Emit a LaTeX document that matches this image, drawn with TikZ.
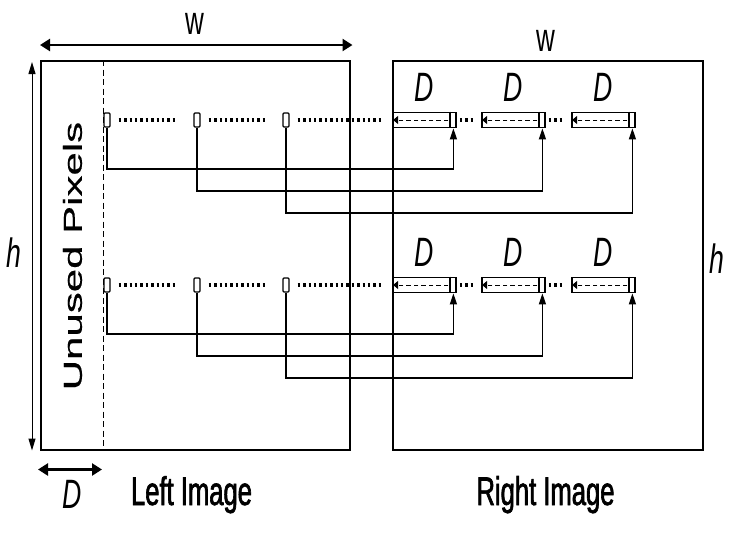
\documentclass[tikz,border=0pt]{standalone}
\usepackage{fontspec}
\setmainfont{Liberation Sans}
\newfontfamily\condf[FakeStretch=0.65]{Liberation Sans}
\newfontfamily\condbf[FakeStretch=0.64,FakeBold=1.6]{Liberation Sans}
\newfontfamily\plainf[FakeBold=0.4]{Liberation Sans}
\usetikzlibrary{arrows.meta}
\tikzset{
  frame/.style={draw, line width=1.5pt, inner sep=0pt, anchor=north west},
  sqbox/.style={draw, line width=1.4pt, minimum width=6pt, minimum height=14pt, inner sep=0pt, rounded corners=1pt},
  rbox/.style={draw, line width=1.8pt, minimum width=63pt, minimum height=15pt, inner sep=0pt},
  conn/.style={line width=1.4pt, -{Triangle[length=11pt,width=7pt]}},
  dotrun/.style={line width=4.5pt, dash pattern=on 2.4pt off 3pt},
  innerdash/.style={line width=1pt, dash pattern=on 4.5pt off 3pt, -{Triangle[length=5pt,width=8pt]}},
  dimarrow/.style={line width=2.4pt, {Triangle[length=10pt,width=12pt]}-{Triangle[length=10pt,width=12pt]}},
  harrow/.style={line width=1pt, {Triangle[length=12pt,width=7pt]}-{Triangle[length=12pt,width=7pt]}},
  lbl/.style={font=\condf\fontsize{40}{40}\selectfont, inner sep=0pt, anchor=base},
  blbl/.style={font=\condbf\fontsize{40}{40}\selectfont, inner sep=0pt, anchor=base},
  ilbl/.style={font=\condf\itshape\fontsize{41}{41}\selectfont, inner sep=0pt, anchor=base}
}
\begin{document}
\begin{tikzpicture}[x=1pt,y=-1pt]
\useasboundingbox (0,0) rectangle (748,541);
% frames
\node[frame, minimum width=309pt, minimum height=389pt] (L) at (40,60) {};
\node[frame, minimum width=310pt, minimum height=389pt] (R) at (392,60) {};
% unused pixel border
\draw[line width=0.9pt, dash pattern=on 6pt off 3.5pt] ([xshift=63pt]L.north west) -- ([xshift=63pt]L.south west);
% dimension arrows
\draw[dimarrow] ([yshift=15pt]L.north west) -- ([yshift=15pt,xshift=2pt]L.north east);
\draw[harrow] ([xshift=-8pt,yshift=-2pt]L.north west) -- ([xshift=-8pt]L.south west);
\draw[dimarrow] ([xshift=-2pt,yshift=-19pt]L.south west) -- ([xshift=62pt,yshift=-19pt]L.south west);
% labels
\node[lbl] (wl) at (195,34) {w};
\node[lbl] (wr) at (546,51) {w};
\node[ilbl] (hl) at (14,267) {h};
\node[ilbl] (hr) at (717,273) {h};
\node[ilbl] (dl) at (72,508) {D};
\node[blbl] (li) at (191.5,505) {Left Image};
\node[blbl] (ri) at (545.5,505) {Right Image};
\node[rotate=90, inner sep=0pt] (up) at (72.5,256) {\scalebox{1}[0.62]{\plainf\fontsize{42}{42}\selectfont Unused Pixels}};
% rows
\foreach \rw/\yy in {1/120,2/285}{
  \node[sqbox] (s\rw a) at (107,\yy) {};
  \node[sqbox] (s\rw b) at (197,\yy) {};
  \node[sqbox] (s\rw c) at (286,\yy) {};
  \node[rbox] (b\rw a) at (424.5,\yy) {};
  \node[rbox] (b\rw b) at (513.5,\yy) {};
  \node[rbox] (b\rw c) at (603.5,\yy) {};
  \coordinate (l\rw a) at (0,\yy+49);
  \coordinate (l\rw b) at (0,\yy+71);
  \coordinate (l\rw c) at (0,\yy+93);
  \foreach \k in {a,b,c}{
    \draw[line width=1.3pt] ([xshift=-7pt]b\rw\k.north east) -- ([xshift=-7pt]b\rw\k.south east);
    \draw[innerdash] ([xshift=-8.5pt]b\rw\k.east) -- ([xshift=1pt]b\rw\k.west);
    \node[ilbl] (d\rw\k) at ([yshift=10pt]b\rw\k.north) {D};
    \coordinate (t\rw\k) at ([xshift=-3.5pt]b\rw\k.south east);
    \draw[conn] (s\rw\k.south) |- (l\rw\k -| t\rw\k) -- (t\rw\k);
  }
  \draw[dotrun] ([xshift=8pt]s\rw a.east) -- ([xshift=-17pt]s\rw b.west);
  \draw[dotrun] ([xshift=8pt]s\rw b.east) -- ([xshift=-16pt]s\rw c.west);
  \draw[dotrun] ([xshift=8pt]s\rw c.east) -- ([xshift=-10pt]b\rw a.west);
  \draw[dotrun] ([xshift=3pt]b\rw a.east) -- ([xshift=-8pt]b\rw b.west);
  \draw[dotrun] ([xshift=3pt]b\rw b.east) -- ([xshift=-8pt]b\rw c.west);
}
\end{tikzpicture}
\end{document}
